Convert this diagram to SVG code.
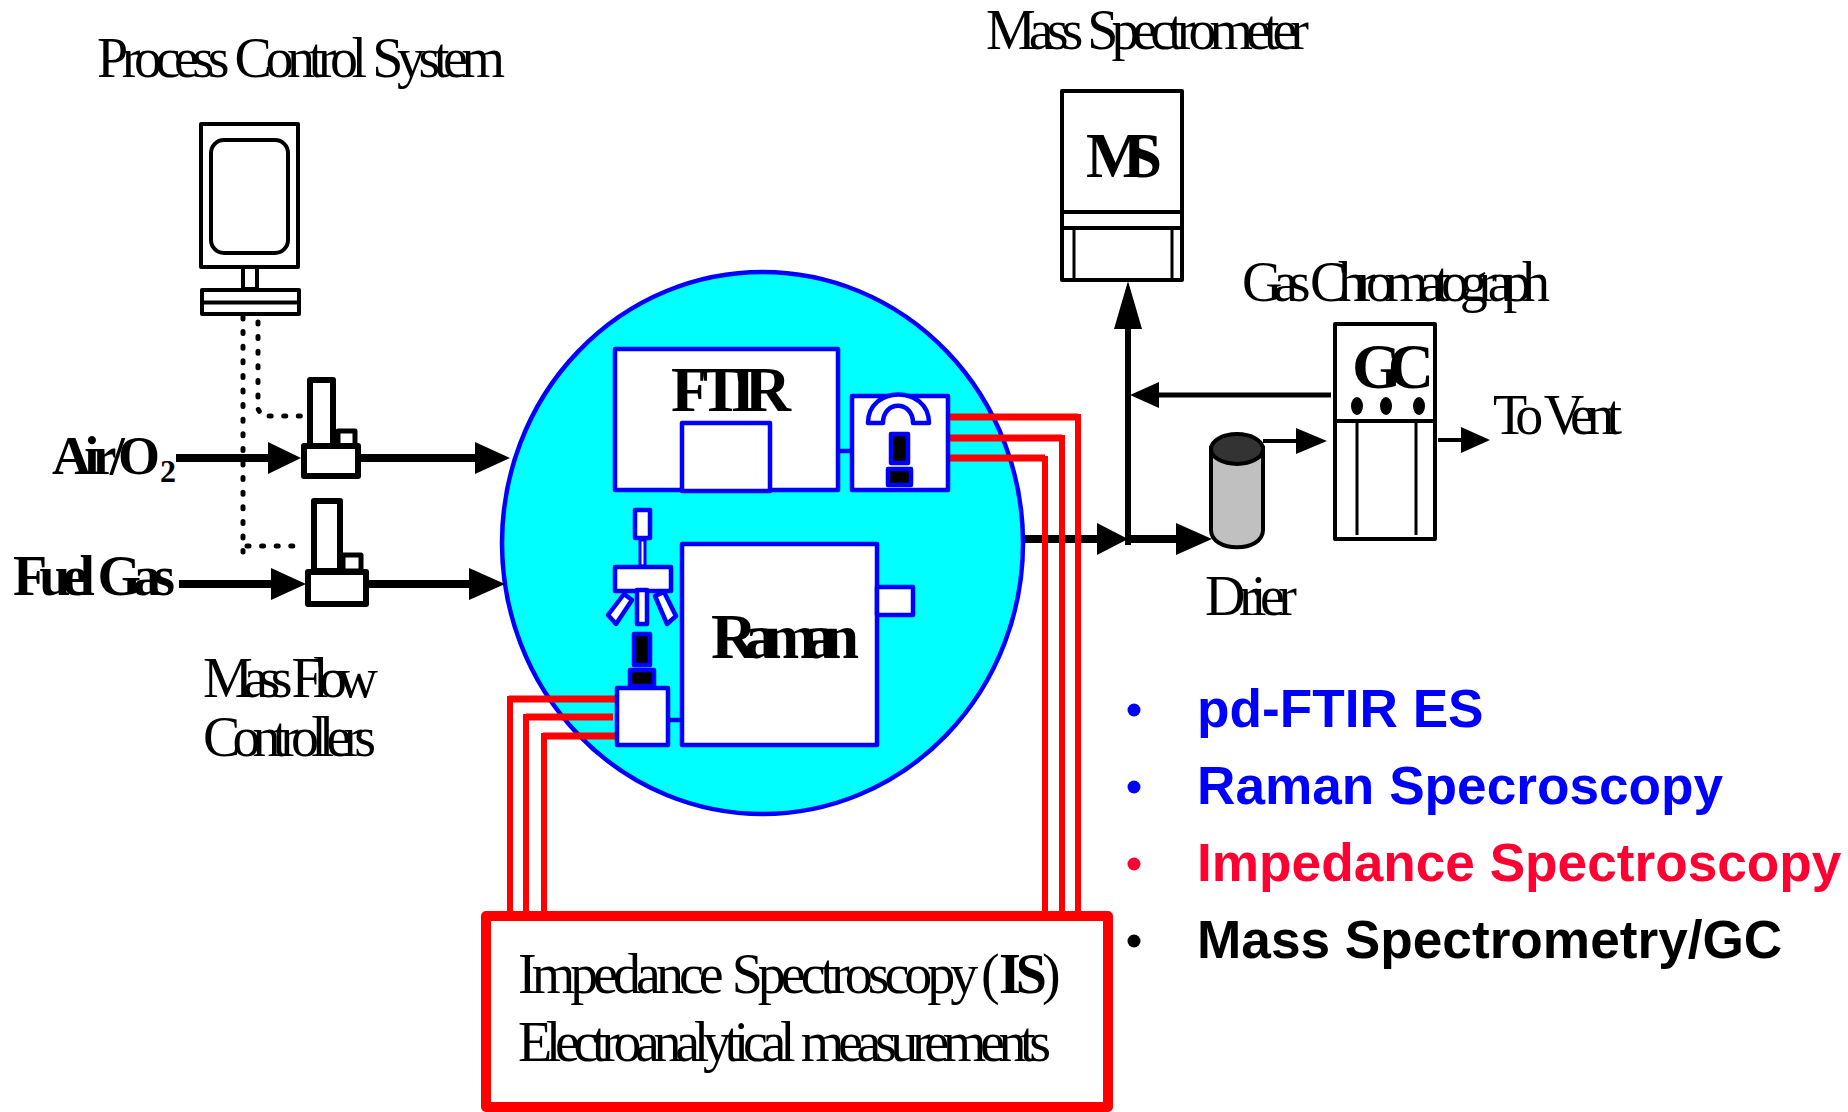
<svg xmlns="http://www.w3.org/2000/svg" width="1848" height="1112" viewBox="0 0 1848 1112">
<style>
text{font-family:"Liberation Serif","Times New Roman",serif;fill:#000;font-size:56px;word-spacing:4px}
.b{font-weight:bold;font-size:56px}
.big{font-weight:bold;font-size:64px}
.l{font-family:"Liberation Sans",Arial,sans-serif;font-weight:bold;font-size:53.2px;word-spacing:0}
.k{fill:#fff;stroke:#000;stroke-width:4;stroke-linejoin:round}
.u{fill:#fff;stroke:#00f;stroke-width:4.500;stroke-linejoin:round}
.ub{fill:#000;stroke:#00f;stroke-width:4.500;stroke-linejoin:round}
.m{fill:#fff;stroke:#000;stroke-width:6;stroke-linejoin:round}
.r{stroke:#f00;stroke-width:7;fill:none}
.a{stroke:#000;fill:none}
.d{stroke:#000;stroke-width:5;fill:none;stroke-linecap:round;stroke-dasharray:2 12.600}
</style>
<g id="reactor"><ellipse cx="762.500" cy="543" rx="260.500" ry="271" fill="#0ff" stroke="#00f" stroke-width="4.500"/></g>
<g id="connectors">
<path class="d" d="M243 317V552M247 546H303"/>
<path class="d" d="M258 322V409L262 416H306"/>
<path class="a" stroke-width="8" d="M176 458H270M361 458H476M179 584H273M369 584H471M1025 539H1098M1128 539H1177"/>
<path class="a" stroke-width="6" d="M1128 545V328"/>
<path class="a" stroke-width="5" d="M1331 395H1158"/>
<path class="a" stroke-width="4" d="M1263 441H1297M1438 440H1462"/>
<path d="M268 442L301 458L268 474ZM475 442L510 458L475 474ZM271 568L306 584L271 600ZM469 568L505 584L469 600ZM1097 523L1128 539L1097 555ZM1176 523L1212 539L1176 555ZM1114 329L1128 281L1142 329ZM1159 382L1130 395L1159 408ZM1296 428L1327 441L1296 454ZM1461 427L1490 440L1461 453Z"/>
<path class="u" fill="none" d="M840 451H852M670 720H682"/>
<path class="r" d="M947 417H1078M947 438H1062M948 458H1045M617 699H509M613 717H526M615 736H543"/>
<path class="r" style="stroke-width:6" d="M1078 414V912M1062 435V912M1045 456V912M510 696V912M526 714V912M544 733V912"/>
</g>
<g id="pcs">
<rect class="k" x="201" y="124" width="97" height="143"/>
<rect class="k" x="211" y="140" width="77" height="113" rx="13"/>
<rect class="k" x="243" y="267" width="14" height="22"/>
<rect class="k" x="202" y="290" width="97" height="24"/>
<path class="k" d="M200 302.500H299"/>
<text x="97" y="77" textLength="408" lengthAdjust="spacing">Process Control System</text>
</g>
<g id="mfc1">
<rect class="m" x="310" y="380" width="23" height="66"/>
<rect class="m" x="338" y="431" width="17" height="15" style="stroke-width:5"/>
<rect class="m" x="304" y="446" width="54" height="30"/>
</g>
<g id="mfc2">
<rect class="m" x="314" y="501" width="26" height="70"/>
<rect class="m" x="343" y="555" width="18" height="16" style="stroke-width:5"/>
<rect class="m" x="308" y="572" width="58" height="32"/>
</g>
<g id="labels-left">
<text class="b" x="52" y="474" textLength="108" lengthAdjust="spacing" style="font-size:54px">Air/O</text>
<text class="b" x="160" y="482" style="font-size:32px">2</text>
<text class="b" x="13" y="595" textLength="162" lengthAdjust="spacing">Fuel Gas</text>
<text x="203" y="697" textLength="175" lengthAdjust="spacing">Mass Flow</text>
<text x="203" y="756" textLength="173" lengthAdjust="spacing">Controllers</text>
</g>
<g id="ftir">
<rect class="u" x="615" y="349" width="223" height="141"/>
<text class="big" x="671" y="411" textLength="120" lengthAdjust="spacing">FTIR</text>
<rect class="u" x="682" y="423" width="88" height="68"/>
</g>
<g id="detector">
<rect class="u" x="852" y="396" width="96" height="94"/>
<path class="u" d="M868 423C868 385 929 385 929 423H913C913 400 883 400 883 423Z"/>
<rect class="ub" x="891" y="434" width="17" height="29"/>
<rect class="ub" x="888" y="469" width="23" height="16"/>
</g>
<g id="raman">
<rect class="u" x="682" y="544" width="195" height="201"/>
<text class="big" x="711" y="658" textLength="148" lengthAdjust="spacing">Raman</text>
<rect class="u" x="877" y="587" width="36" height="28"/>
<rect class="u" x="617" y="688" width="51" height="57"/>
<rect class="u" x="635" y="510" width="15" height="28"/>
<rect class="u" x="640" y="540" width="5" height="26" style="stroke-width:3"/>
<rect class="u" x="615" y="567" width="56" height="24"/>
<rect class="u" x="637" y="590" width="10" height="34"/>
<path class="u" d="M624 594L632 600L616 624L608 615Z"/>
<path class="u" d="M655 596L664 592L676 616L667 624Z"/>
<rect class="ub" x="634" y="634" width="16" height="31"/>
<rect class="ub" x="630" y="670" width="24" height="16"/>
</g>
<g id="ms">
<rect class="k" x="1062" y="91" width="120" height="189"/>
<path class="k" d="M1062 212H1182M1062 228H1182"/>
<path class="k" d="M1074 228V278M1172 228V278" style="stroke-width:3"/>
<text class="big" x="1086" y="177" textLength="76" lengthAdjust="spacing">MS</text>
<text x="986" y="49" textLength="323" lengthAdjust="spacing">Mass Spectrometer</text>
</g>
<g id="gc">
<rect class="k" x="1335" y="324" width="100" height="215"/>
<path class="k" d="M1335 421H1435"/>
<path class="k" d="M1357 421V535M1416 421V535" style="stroke-width:3"/>
<ellipse cx="1357" cy="406" rx="6" ry="9"/><ellipse cx="1386" cy="406" rx="6" ry="9"/><ellipse cx="1419" cy="406" rx="6" ry="9"/>
<text class="big" x="1352" y="388" textLength="82" lengthAdjust="spacing">GC</text>
<text x="1242" y="301" textLength="308" lengthAdjust="spacing">Gas Chromatograph</text>
<text x="1493" y="434" textLength="129" lengthAdjust="spacing">To Vent</text>
</g>
<g id="drier">
<path d="M1211 448V530C1211 553 1263 553 1263 530V448Z" fill="#c0c0c0" stroke="#000" stroke-width="4"/>
<ellipse cx="1237" cy="449" rx="26" ry="15" fill="#333" stroke="#000" stroke-width="4"/>
<text x="1205" y="615" textLength="92" lengthAdjust="spacing">Drier</text>
</g>
<g id="is">
<rect x="486" y="916" width="622" height="191" fill="#fff" stroke="#f00" stroke-width="10" stroke-linejoin="round"/>
<text x="518" y="993" style="letter-spacing:-5px">Impedance Spectroscopy<tspan x="981" style="letter-spacing:0">(</tspan><tspan class="b" x="999" style="letter-spacing:-5px">IS</tspan>)</text>
<text x="518" y="1061" textLength="533" lengthAdjust="spacing">Electroanalytical measurements</text>
</g>
<g id="list">
<circle cx="1134" cy="710" r="6.500" fill="#00f"/><circle cx="1134" cy="787" r="6.500" fill="#00f"/><circle cx="1134" cy="864" r="6.500" fill="#f03"/><circle cx="1134" cy="941" r="6.500"/>
<text class="l" x="1197" y="727" style="fill:#00f">pd-FTIR ES</text>
<text class="l" x="1197" y="804" style="fill:#00f">Raman Specroscopy</text>
<text class="l" x="1197" y="881" style="fill:#f03">Impedance Spectroscopy</text>
<text class="l" x="1197" y="958">Mass Spectrometry/GC</text>
</g>
</svg>
